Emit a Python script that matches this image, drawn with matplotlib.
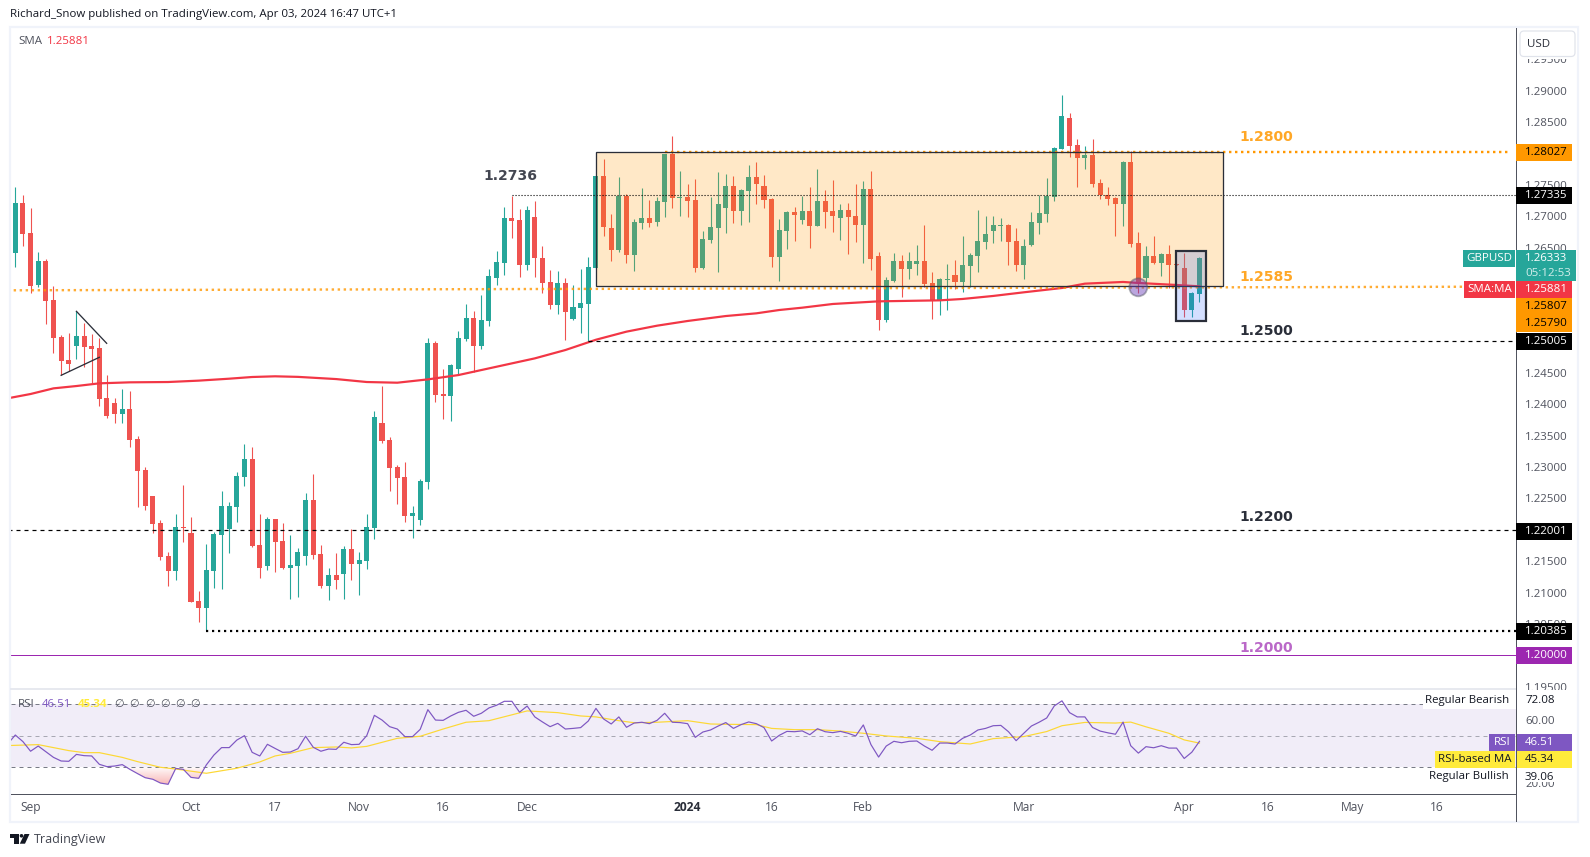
import matplotlib
matplotlib.use('Agg')
import matplotlib.pyplot as plt
import matplotlib.patches as patches
import matplotlib.path as mpath
import numpy as np


plt.rcParams['font.family'] = ['Open Sans', 'DejaVu Sans']
plt.rcParams['lines.scale_dashes'] = False

# bar 0 is 30 Aug 2023, bar -1 is the clipped one on the left edge
opens = [1.26030,
         1.26418, 1.27210, 1.26726, 1.25903, 1.26280, 1.25658, 1.25068, 1.24702, 1.24936, 1.25084,
         1.24925, 1.24893, 1.24096, 1.24016, 1.23851, 1.23921, 1.23442, 1.22948, 1.22534, 1.22103,
         1.21577, 1.21349, 1.22039, 1.21944, 1.20860, 1.20759, 1.21349, 1.21923, 1.22018, 1.22369,
         1.22847, 1.23123, 1.21752, 1.21428, 1.22167, 1.21816, 1.21396, 1.21428, 1.21587, 1.22469,
         1.21608, 1.21109, 1.21274, 1.21300, 1.21688, 1.21460, 1.21507, 1.22033, 1.23697, 1.23426,
         1.22995, 1.22836, 1.22225, 1.22161, 1.22767, 1.24972, 1.24159, 1.24138, 1.24568, 1.25046,
         1.25371, 1.24935, 1.25333, 1.26008, 1.26258, 1.26965, 1.26933, 1.26226, 1.26981, 1.26327,
         1.25944, 1.25588, 1.25929, 1.25365, 1.25541, 1.25604, 1.26174, 1.27640, 1.26806, 1.26466,
         1.27321, 1.26386, 1.26891, 1.26965, 1.26912, 1.27231, 1.27991, 1.27295, 1.27300, 1.27258,
         1.26179, 1.26625, 1.26817, 1.27135, 1.27476, 1.27088, 1.27406, 1.27619, 1.27476, 1.27268,
         1.26354, 1.26769, 1.27061, 1.26944, 1.27077, 1.26848, 1.27236, 1.27077, 1.26976, 1.27093,
         1.26997, 1.26864, 1.27428, 1.26360, 1.25350, 1.25967, 1.26280, 1.26163, 1.26243, 1.26280,
         1.25929, 1.25642, 1.25988, 1.26057, 1.25956, 1.26211, 1.26371, 1.26594, 1.26769, 1.26849,
         1.26854, 1.26599, 1.26227, 1.26546, 1.26897, 1.27040, 1.27311, 1.28076, 1.28560, 1.28129,
         1.27933, 1.27970, 1.27524, 1.27332, 1.27284, 1.27200, 1.27858, 1.26567, 1.26020, 1.26360,
         1.26259, 1.26392, 1.26238, 1.26169, 1.25510, 1.25765]
highs = [1.26429,
         1.27460, 1.27332, 1.27130, 1.26423, 1.26312, 1.25881, 1.25100, 1.25132, 1.25483, 1.25292,
         1.25121, 1.25052, 1.24463, 1.24096, 1.24239, 1.24207, 1.23490, 1.22996, 1.22534, 1.22151,
         1.21641, 1.22247, 1.22709, 1.22204, 1.21019, 1.21768, 1.21960, 1.22613, 1.22438, 1.22916,
         1.23363, 1.23315, 1.22247, 1.22199, 1.22167, 1.22103, 1.21912, 1.21705, 1.22581, 1.22884,
         1.21752, 1.21385, 1.21624, 1.21736, 1.22007, 1.21640, 1.22246, 1.23888, 1.24286, 1.23473,
         1.23027, 1.23075, 1.22373, 1.22804, 1.25052, 1.25004, 1.24558, 1.24637, 1.25163, 1.25594,
         1.25482, 1.25737, 1.26152, 1.26439, 1.27140, 1.27326, 1.27108, 1.27156, 1.27236, 1.26518,
         1.26136, 1.26120, 1.26008, 1.25897, 1.26152, 1.26343, 1.27640, 1.27906, 1.27029, 1.27619,
         1.27348, 1.26949, 1.27444, 1.27252, 1.27300, 1.27991, 1.28273, 1.27715, 1.27507, 1.27587,
         1.26758, 1.27300, 1.27699, 1.27667, 1.27635, 1.27428, 1.27810, 1.27858, 1.27651, 1.27284,
         1.26949, 1.27077, 1.27141, 1.27316, 1.27460, 1.27747, 1.27412, 1.27571, 1.27189, 1.27204,
         1.27507, 1.27555, 1.27715, 1.26424, 1.26025, 1.26408, 1.26376, 1.26424, 1.26535, 1.26854,
         1.26105, 1.26009, 1.26232, 1.26296, 1.26679, 1.26408, 1.27093, 1.26998, 1.26998, 1.26966,
         1.26870, 1.26806, 1.26631, 1.27061, 1.27332, 1.27603, 1.28098, 1.28927, 1.28640, 1.28225,
         1.28114, 1.28225, 1.27587, 1.27460, 1.27300, 1.27874, 1.28034, 1.26742, 1.26519, 1.26679,
         1.26408, 1.26535, 1.26238, 1.26408, 1.25786, 1.26344]
lows = [1.26030,
        1.26195, 1.26524, 1.25780, 1.25876, 1.25281, 1.24824, 1.24463, 1.24526, 1.24728, 1.24601,
        1.24335, 1.23979, 1.23788, 1.23708, 1.23708, 1.23325, 1.22369, 1.22321, 1.21944, 1.21524,
        1.21109, 1.21205, 1.21811, 1.20854, 1.20536, 1.20385, 1.21078, 1.21062, 1.21636, 1.22130,
        1.22704, 1.21731, 1.21237, 1.21365, 1.21333, 1.21380, 1.20902, 1.20934, 1.21443, 1.21539,
        1.21077, 1.20886, 1.21061, 1.20902, 1.21204, 1.20965, 1.21380, 1.21858, 1.23388, 1.22623,
        1.22416, 1.22129, 1.21874, 1.22081, 1.22655, 1.24042, 1.23771, 1.23739, 1.24467, 1.25015,
        1.24520, 1.24887, 1.25254, 1.25907, 1.26067, 1.26657, 1.26035, 1.26146, 1.26035, 1.25780,
        1.25525, 1.25445, 1.25031, 1.25349, 1.25142, 1.25004, 1.26174, 1.26689, 1.26290, 1.26434,
        1.26259, 1.26131, 1.26801, 1.26833, 1.26848, 1.26992, 1.27135, 1.27008, 1.26992, 1.26115,
        1.26163, 1.26577, 1.26115, 1.26737, 1.26896, 1.26864, 1.26912, 1.27199, 1.27135, 1.26195,
        1.25972, 1.26482, 1.26609, 1.26880, 1.26498, 1.26848, 1.26817, 1.26753, 1.26625, 1.26402,
        1.26593, 1.26259, 1.26147, 1.25191, 1.25318, 1.25951, 1.25717, 1.26004, 1.26068, 1.25876,
        1.25366, 1.25430, 1.25510, 1.25844, 1.25797, 1.25876, 1.26115, 1.26482, 1.26578, 1.26610,
        1.26227, 1.26131, 1.26004, 1.26530, 1.26721, 1.26913, 1.27237, 1.28076, 1.27949, 1.27471,
        1.27757, 1.27460, 1.27269, 1.27184, 1.26689, 1.26849, 1.26514, 1.25770, 1.25929, 1.26232,
        1.26052, 1.25850, 1.26227, 1.25398, 1.25398, 1.25637]
closes = [1.26429,
          1.27210, 1.26721, 1.25892, 1.26280, 1.25653, 1.25063, 1.24696, 1.24649, 1.25084, 1.24920,
          1.24888, 1.24091, 1.23820, 1.23851, 1.23921, 1.23437, 1.22943, 1.22385, 1.22098, 1.21572,
          1.21349, 1.22039, 1.22034, 1.20854, 1.20759, 1.21354, 1.21928, 1.22374, 1.22374, 1.22852,
          1.23123, 1.21747, 1.21396, 1.22167, 1.21811, 1.21396, 1.21434, 1.21641, 1.22469, 1.21603,
          1.21109, 1.21274, 1.21204, 1.21688, 1.21460, 1.21513, 1.22039, 1.23792, 1.23420, 1.22990,
          1.22830, 1.22225, 1.22262, 1.22772, 1.24972, 1.24154, 1.24138, 1.24621, 1.25052, 1.25371,
          1.24935, 1.25339, 1.26040, 1.26263, 1.26965, 1.26928, 1.26226, 1.27092, 1.26327, 1.25939,
          1.25588, 1.25929, 1.25477, 1.25546, 1.25610, 1.26184, 1.27640, 1.26833, 1.26466, 1.27321,
          1.26386, 1.26907, 1.26965, 1.26891, 1.27236, 1.27991, 1.27295, 1.27305, 1.27247, 1.26179,
          1.26631, 1.26822, 1.27189, 1.27476, 1.27088, 1.27412, 1.27619, 1.27518, 1.27263, 1.26354,
          1.26774, 1.27061, 1.27024, 1.27077, 1.26848, 1.27236, 1.27072, 1.27008, 1.27093, 1.26992,
          1.26864, 1.27428, 1.26322, 1.25350, 1.25977, 1.26280, 1.26163, 1.26280, 1.26280, 1.25924,
          1.25642, 1.25993, 1.25998, 1.25956, 1.26216, 1.26376, 1.26599, 1.26711, 1.26854, 1.26854,
          1.26594, 1.26227, 1.26519, 1.26902, 1.27045, 1.27316, 1.28082, 1.28592, 1.28124, 1.27933,
          1.27970, 1.27518, 1.27338, 1.27279, 1.27200, 1.27858, 1.26562, 1.25929, 1.26360, 1.26259,
          1.26392, 1.26227, 1.26227, 1.25510, 1.25770, 1.26333]

sma_bar = [-1, 2, 5, 8, 11, 15, 20, 24, 28, 31, 34, 37, 42, 46, 50, 54, 58, 63, 68, 72, 76, 80, 84, 88,
           93, 97, 100, 103, 107, 113, 116, 121, 124, 128, 132, 137, 140, 145, 147, 152, 155]
sma_val = [1.24096, 1.24165, 1.24255, 1.24292, 1.24335, 1.24351, 1.24356, 1.24378, 1.24409, 1.24436,
           1.24447, 1.24438, 1.24403, 1.24356, 1.24345, 1.24398, 1.24467, 1.24600, 1.24733, 1.24866,
           1.25030, 1.25159, 1.25254, 1.25329, 1.25408, 1.25451, 1.25504, 1.25541, 1.25600, 1.25642,
           1.25648, 1.25658, 1.25680, 1.25728, 1.25786, 1.25855, 1.25924, 1.25951, 1.25935, 1.25903,
           1.25881]

rsi = [44.8,
       50.5, 46.3, 40.2, 43.5, 39.9, 36.3, 34.0, 33.8, 38.2, 37.4,
       37.2, 31.9, 30.4, 30.8, 31.7, 28.7, 26.0, 23.4, 22.4, 20.0,
       19.2, 29.3, 28.7, 23.6, 23.0, 31.5, 37.8, 42.5, 42.5, 47.3,
       50.1, 39.5, 37.2, 44.6, 42.0, 39.5, 39.7, 41.8, 49.7, 42.7,
       40.2, 41.6, 41.4, 45.9, 44.4, 44.6, 50.1, 63.0, 60.0, 55.8,
       54.3, 49.5, 49.5, 54.1, 66.6, 60.0, 59.8, 62.6, 64.9, 66.2,
       62.4, 64.3, 67.7, 69.4, 71.9, 71.9, 65.0, 68.9, 62.0, 58.8,
       55.8, 57.9, 54.3, 54.7, 55.2, 59.4, 67.4, 60.7, 57.5, 62.0,
       55.4, 58.1, 58.6, 57.7, 59.8, 64.3, 58.6, 58.4, 57.7, 49.0,
       52.4, 53.7, 56.2, 58.4, 54.7, 57.1, 58.8, 57.7, 55.2, 46.7,
       50.3, 52.8, 52.6, 53.1, 50.7, 54.5, 52.6, 52.0, 52.8, 51.6,
       49.9, 56.9, 44.4, 36.5, 43.5, 46.5, 45.6, 46.5, 46.7, 43.5,
       40.8, 45.4, 45.4, 44.8, 48.4, 50.5, 53.7, 54.7, 56.4, 56.6,
       52.6, 46.9, 51.6, 56.2, 58.6, 61.3, 69.0, 72.2, 64.7, 62.0,
       62.0, 55.3, 53.0, 51.9, 51.0, 58.7, 43.7, 39.0, 43.1, 42.4,
       43.7, 42.2, 42.2, 35.6, 39.6, 46.51]

rsi_ma_bar = [-1, 3, 7, 9, 11, 14, 16, 19, 21, 25, 29, 32, 34, 36, 39, 42, 44, 46, 50, 53, 56, 59,
              62, 67, 71, 74, 76, 79, 81, 84, 88, 91, 93, 97, 99, 102, 105, 108, 111, 114, 118,
              121, 125, 128, 132, 135, 137, 140, 144, 146, 148, 151, 153, 155]
rsi_ma_val = [43.8, 44.4, 40.6, 39.3, 39.3, 36.3, 33.6, 30.0, 28.9, 26.2, 29.4, 33.4, 37.2, 38.9,
              42.5, 42.9, 42.3, 43.3, 48.4, 49.7, 54.3, 58.6, 59.6, 65.8, 64.7, 62.6, 62.0, 59.6,
              58.3, 58.6, 59.6, 57.5, 57.3, 57.1, 54.7, 53.9, 53.9, 53.0, 51.6, 49.9, 48.4, 46.3,
              44.8, 48.2, 49.5, 52.7, 56.4, 58.5, 58.1, 58.7, 55.7, 51.6, 47.4, 45.34]

# the ticks that the price boxes cover fully are left out
price_ticks = [1.195, 1.205, 1.21, 1.215, 1.225, 1.23, 1.235, 1.24, 1.245, 1.265, 1.27, 1.275, 1.285,
               1.29, 1.295]
date_ticks = [2, 23, 34, 45, 56, 67, 88, 99, 111, 132, 153, 164, 175, 186]
date_labels = ['Sep', 'Oct', '17', 'Nov', '16', 'Dec', '2024', '16', 'Feb', 'Mar', 'Apr', '16', 'May', '16']

level_labels = ['1.2800', '1.2736', '1.2585', '1.2500', '1.2200', '1.2000']

teal = '#26a69a'
red = '#ef5350'
orange = '#ff9800'
dark = '#2a2e39'
grey = '#50535e'
purple = '#7e57c2'
yellow = '#ffeb3b'

# pixel scale of the picture
width, height = 1590, 857
left, right = 11, 1516
price_top, price_bottom = 28, 689
rsi_bottom = 794


def px(v):
    """pixels to points"""
    return v * 0.72


fig = plt.figure(figsize=[15.9, 8.57], dpi=100, facecolor='white')

ax = fig.add_axes([left / width, 1 - price_bottom / height,
                   (right - left) / width, (price_bottom - price_top) / height])
ax_rsi = fig.add_axes([left / width, 1 - rsi_bottom / height,
                       (right - left) / width, (rsi_bottom - price_bottom) / height])
over = fig.add_axes([0, 0, 1, 1], zorder=10)
over.set_xlim(0, width)
over.set_ylim(height, 0)
over.axis('off')

# candles
bars = np.arange(-1, len(closes) - 1)
o = np.array(opens)
c = np.array(closes)
colors = [teal if b >= a else red for a, b in zip(opens, closes)]
ax.vlines(bars, lows, highs, colors=colors, linewidth=px(1.1), zorder=2)
ax.bar(bars, np.maximum(np.abs(c - o), 0.00016), bottom=np.minimum(o, c), width=0.66, color=colors,
       linewidth=0, zorder=2)

# drawings
ax.add_patch(patches.Rectangle((76.05, 1.25882), 82.05, 1.28028 - 1.25882, facecolor=orange,
                               alpha=0.22, linewidth=0, zorder=3))
ax.add_patch(patches.Rectangle((76.05, 1.25882), 82.05, 1.28028 - 1.25882, fill=False,
                               edgecolor=dark, linewidth=px(1.3), zorder=5))

ax.plot(sma_bar, sma_val, color='#f23645', linewidth=px(2.2), zorder=4)

ax.plot([-1, 190], [1.25818, 1.25875], color=orange, linewidth=px(2.4), alpha=0.8,
        linestyle=(0, (px(2.4), px(3.6))), zorder=4)
ax.plot([85, 195.8], [1.28027, 1.28027], color=orange, linewidth=px(2.4),
        linestyle=(0, (px(2.4), px(3.6))), zorder=4)
ax.plot([65, 197], [1.27335, 1.27335], color='black', linewidth=px(1.1),
        linestyle=(0, (px(1.1), px(1.9))), zorder=4)
ax.plot([75, 197], [1.25005, 1.25005], color='black', linewidth=px(1.2),
        linestyle=(0, (px(4), px(4))), zorder=4)
ax.plot([-1, 197], [1.22001, 1.22001], color='black', linewidth=px(1.2),
        linestyle=(0, (px(4), px(4))), zorder=4)
ax.plot([25, 197], [1.20385, 1.20385], color='black', linewidth=px(2.2),
        linestyle=(0, (px(2.2), px(3.8))), zorder=4)
ax.plot([-1, 197], [1.2, 1.2], color='#9c27b0', linewidth=px(1), zorder=4)

ax.plot([8, 11.96], [1.25483, 1.24973], color=dark, linewidth=px(1.3), zorder=4)
ax.plot([6, 11], [1.24463, 1.24750], color=dark, linewidth=px(1.3), zorder=4)

ax.add_patch(patches.Rectangle((151.9, 1.25324), 4, 1.26449 - 1.25324, facecolor='#2962ff',
                               alpha=0.2, linewidth=0, zorder=5))
ax.add_patch(patches.Rectangle((151.9, 1.25324), 4, 1.26449 - 1.25324, fill=False,
                               edgecolor=dark, linewidth=px(2.2), zorder=6))

ax.set_xlim(-0.5628, 196.43)
ax.set_ylim(1.29 - (price_bottom - 90.7) / 6273, 1.29 - (price_top - 90.7) / 6273)
ax.set_xticks([])
ax.yaxis.tick_right()
ax.set_yticks(price_ticks)
ax.set_yticklabels(['{:.5f}'.format(p) for p in price_ticks])
ax.tick_params(axis='y', length=0, pad=px(9), labelsize=px(11.5), labelcolor=grey)
for spine in ax.spines.values():
    spine.set_visible(False)

# rsi pane
rsi_arr = np.array(rsi)
ax_rsi.axhspan(30, 70, facecolor=purple, alpha=0.1, linewidth=0)
ax_rsi.axhline(70, color='#787b86', linewidth=px(1), linestyle=(0, (px(4), px(4))))
ax_rsi.axhline(50, color='#787b86', linewidth=px(1), alpha=0.6, linestyle=(0, (px(4), px(4))))
ax_rsi.axhline(30, color='#787b86', linewidth=px(1), linestyle=(0, (px(4), px(4))))

# oversold area fades from the 30 line down
below = ax_rsi.fill_between(bars, rsi_arr, 30, where=rsi_arr < 30, interpolate=True, alpha=0, linewidth=0)
fade = np.zeros((64, 1, 4))
fade[..., :3] = matplotlib.colors.to_rgb(red)
fade[..., 3] = np.linspace(0.45, 0.03, 64)[:, None]
shade = ax_rsi.imshow(fade, extent=(-1, 40, 18, 30), origin='lower', aspect='auto', zorder=1)
shade.set_clip_path(mpath.Path.make_compound_path(*below.get_paths()), transform=ax_rsi.transData)

ax_rsi.plot(rsi_ma_bar, rsi_ma_val, color='#fdd835', linewidth=px(1.2), zorder=2)
ax_rsi.plot(bars, rsi, color=purple, linewidth=px(1.2), zorder=3)
ax_rsi.set_xlim(-0.5628, 196.43)
ax_rsi.set_ylim(50 - (rsi_bottom - 735.8) / 1.575, 50 + (735.8 - price_bottom) / 1.575)
ax_rsi.set_xticks(date_ticks)
ax_rsi.set_xticklabels(date_labels)
ax_rsi.yaxis.tick_right()
ax_rsi.set_yticks([60, 20])
ax_rsi.set_yticklabels(['60.00', '20.00'])
ax_rsi.tick_params(axis='y', length=0, pad=px(9), labelsize=px(11.5), labelcolor=grey)
ax_rsi.tick_params(axis='x', length=0, pad=px(7), labelsize=px(12), labelcolor=grey)
ax_rsi.get_xticklabels()[6].set_fontweight('bold')
ax_rsi.get_xticklabels()[6].set_color(dark)
for spine in ax_rsi.spines.values():
    spine.set_visible(False)

# frame and axis lines
over.add_patch(patches.Rectangle((10, 27), 1568, 795, fill=False, edgecolor='#f0f3fa',
                                 linewidth=px(2.2)))
over.plot([11, 1516], [689, 689], color='#e0e3eb', linewidth=px(1.5))
over.plot([11, 1516], [794, 794], color=grey, linewidth=px(1))
over.plot([1516, 1516], [28, 821], color=grey, linewidth=px(1))
over.add_patch(patches.Rectangle((1517, 690), 60, 4, facecolor='white', linewidth=0))
over.add_patch(patches.Rectangle((1517, 29), 60, 30, facecolor='white', linewidth=0))

# price labels on the scale
price_boxes = [
    ('1.28027', 144.0, orange, 'black'),
    ('1.27335', 187.0, 'black', 'white'),
    ('1.25881', 281.0, '#f23645', 'white'),
    ('1.25807', 298.0, orange, 'black'),
    ('1.25790', 315.0, orange, 'black'),
    ('1.25005', 333.0, 'black', 'white'),
    ('1.22001', 522.5, 'black', 'white'),
    ('1.20385', 622.5, 'black', 'white'),
    ('1.20000', 647.0, '#9c27b0', 'white'),
]
for label, top, face, ink in price_boxes:
    over.add_patch(patches.Rectangle((1516, top), 56, 17, facecolor=face, linewidth=0, zorder=3))
    over.text(1525, top + 8.5, label, color=ink, fontsize=px(11.5), va='center', fontweight='medium',
              zorder=4)

over.add_patch(patches.Rectangle((1516, 250), 60, 31, facecolor=teal, linewidth=0, zorder=3))
over.text(1525, 258.5, '1.26333', color='white', fontsize=px(11.5), va='center', zorder=4)
over.text(1525, 273, '05:12:53', color='#d4eeeb', fontsize=px(11.5), va='center', zorder=4)
over.add_patch(patches.Rectangle((1463, 250), 52, 17, facecolor=teal, linewidth=0, zorder=3))
over.text(1489, 258.5, 'GBPUSD', color='white', fontsize=px(11.5), va='center', ha='center', zorder=4)
over.add_patch(patches.Rectangle((1464, 281), 51, 17, facecolor='#f23645', linewidth=0, zorder=3))
over.text(1489.5, 289.5, 'SMA:MA', color='white', fontsize=px(11.5), va='center', ha='center', zorder=4)

over.add_patch(patches.FancyBboxPatch((1520, 31), 55, 25.5, boxstyle='round,pad=0,rounding_size=4',
                                      facecolor='white', edgecolor='#e0e3eb', linewidth=px(1.2), zorder=3))
over.text(1539, 44.5, 'USD', color=dark, fontsize=px(11.5), va='center', ha='center', zorder=4)

# rsi labels
over.add_patch(patches.Rectangle((1423, 690), 92.5, 19, facecolor='white', linewidth=0, zorder=2))
over.add_patch(patches.Rectangle((1517, 693), 55, 14, facecolor='white', linewidth=0, zorder=2))
over.add_patch(patches.Rectangle((1517, 768), 55, 14, facecolor='white', linewidth=0, zorder=2))
over.text(1509, 700, 'Regular Bearish', color='#131722', fontsize=px(11.5), va='center', ha='right', zorder=4)
over.text(1509, 776.5, 'Regular Bullish', color='#131722', fontsize=px(11.5), va='center', ha='right', zorder=4)
over.text(1525, 700.5, '72.08', color='#131722', fontsize=px(11.5), va='center', zorder=4)
over.text(1525, 777, '39.06', color='#131722', fontsize=px(11.5), va='center', zorder=4)
over.add_patch(patches.Rectangle((1489, 734), 26, 17, facecolor=purple, linewidth=0, zorder=3))
over.add_patch(patches.Rectangle((1516.5, 734), 55.5, 17, facecolor=purple, linewidth=0, zorder=3))
over.text(1502, 742.5, 'RSI', color='white', fontsize=px(11.5), va='center', ha='center', zorder=4)
over.text(1525, 742.5, '46.51', color='white', fontsize=px(11.5), va='center', zorder=4)
over.add_patch(patches.Rectangle((1435, 751), 80, 17, facecolor=yellow, linewidth=0, zorder=3))
over.add_patch(patches.Rectangle((1516.5, 751), 55.5, 17, facecolor=yellow, linewidth=0, zorder=3))
over.text(1475, 759.5, 'RSI-based MA', color='#131722', fontsize=px(11.5), va='center', ha='center', zorder=4)
over.text(1525, 759.5, '45.34', color='#131722', fontsize=px(11.5), va='center', zorder=4)

# circle on the sma
over.add_patch(patches.Circle((1138.3, 287.3), 9, facecolor='#673ab7', edgecolor='#50535e', alpha=0.45,
                              linewidth=px(1.8), zorder=2))

# level labels
level_font = ['DejaVu Sans']
over.text(1266.7, 136.7, level_labels[0], color='#ffa726', fontsize=px(14), fontweight='bold',
          family=level_font, ha='center', va='center')
over.text(510.7, 175.7, level_labels[1], color='#434651', fontsize=px(14), fontweight='bold',
          family=level_font, ha='center', va='center')
over.text(1266.7, 276.7, level_labels[2], color='#ffa726', fontsize=px(14), fontweight='bold',
          family=level_font, ha='center', va='center')
over.text(1266.7, 330.7, level_labels[3], color=dark, fontsize=px(14), fontweight='bold',
          family=level_font, ha='center', va='center')
over.text(1266.7, 516.7, level_labels[4], color=dark, fontsize=px(14), fontweight='bold',
          family=level_font, ha='center', va='center')
over.text(1266.7, 647.7, level_labels[5], color='#ba68c8', fontsize=px(14), fontweight='bold',
          family=level_font, ha='center', va='center')

# header and legends
over.text(10, 14.5, 'Richard_Snow published on TradingView.com, Apr 03, 2024 16:47 UTC+1', color='#131722',
          fontsize=px(11.5), va='center')
over.text(18, 41, 'SMA', color=grey, fontsize=px(11.5), va='center')
over.text(47, 41, '1.25881', color='#f23645', fontsize=px(11.5), va='center')

over.text(18, 704.5, 'RSI', color=grey, fontsize=px(11.5), va='center')
over.text(41.5, 704.5, '46.51', color=purple, fontsize=px(11.5), va='center')
over.text(78, 704.5, '45.34', color=yellow, fontsize=px(11.5), fontweight='bold', va='center')
for nx in [119, 134, 150, 165, 180, 195]:
    over.text(nx, 704.5, '\u2205', color=grey, fontsize=px(11), va='center', ha='center')

# tradingview mark
over.add_patch(patches.Polygon([(10, 834), (19, 834), (19, 843.7), (14.3, 843.7), (14.3, 837.5), (10, 837.5)],
                               facecolor='#131722', linewidth=0))
over.add_patch(patches.Circle((21.5, 835.8), 1.8, facecolor='#131722', linewidth=0))
over.add_patch(patches.Polygon([(24.5, 834), (29.5, 834), (25, 843.7), (19.8, 843.7)],
                               facecolor='#131722', linewidth=0))
over.text(33.5, 839.5, 'TradingView', color='#434651', fontsize=px(12.5), va='center')

plt.savefig('out.png', dpi=100)
